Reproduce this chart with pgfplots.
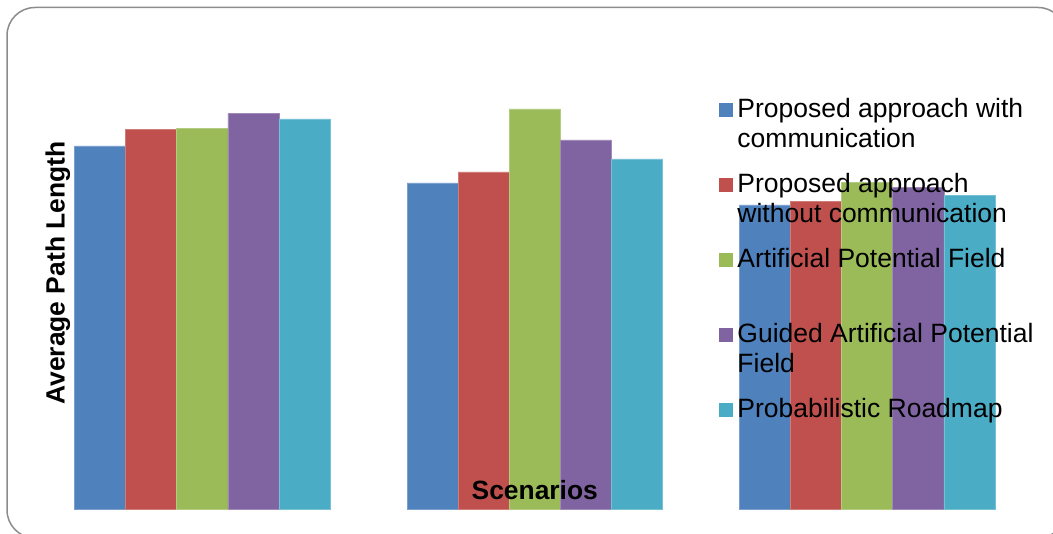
\documentclass[border=0pt]{standalone}
\usepackage{pgfplots}
\pgfplotsset{compat=1.18}
\usepackage{fontspec}
\setmainfont{Liberation Sans}
\definecolor{c1}{HTML}{4F81BD}
\definecolor{c2}{HTML}{C0504D}
\definecolor{c3}{HTML}{9BBB59}
\definecolor{c4}{HTML}{8064A2}
\definecolor{c5}{HTML}{4BACC6}
\definecolor{frame}{HTML}{8C8C8C}
\newcommand{\LE}[2]{\begin{tabular}[t]{@{}l@{}}#1\\#2\end{tabular}}
\begin{document}
\begin{tikzpicture}[x=0.5pt,y=0.5pt]
\useasboundingbox (0,0) rectangle (1053,534);
\begin{scope}
\clip (0,0) rectangle (1053,534);
\draw[frame, line width=0.75pt, rounded corners=14pt] (7,-4) rectangle (1066,526.5);
\end{scope}
\begin{axis}[
  at={(18.05pt,12.25pt)}, anchor=south west,
  scale only axis, width=498.65pt, height=250pt,
  xmin=-0.5, xmax=2.5, ymin=0, ymax=50,
  ybar=0pt, bar width=25.55pt,
  axis line style={draw=none}, ticks=none,
  xlabel={\fontsize{13.2}{16}\selectfont\bfseries Scenarios},
  ylabel={\fontsize{13.2}{16}\selectfont\bfseries Average Path Length},
  every axis x label/.style={at={(axis description cs:0.5,0.019)}, anchor=base},
  every axis y label/.style={at={(axis description cs:0.0218,0.473)}, rotate=90, anchor=center},
  every axis plot post/.append style={legend image code/.code={\fill[##1,draw=none] (0pt,0pt) rectangle (7.1pt,7.2pt);}},
  legend style={
    at={(axis description cs:0.6840,0.8276)}, anchor=north west,
    draw=none, fill=none, inner sep=0pt,
    nodes={inner sep=0pt, text depth=},
    cells={anchor=base west},
    row sep=7.5pt, column sep=2.3pt,
    font=\fontsize{13.25}{15}\selectfont,
  },
]
\addplot[fill=c1, draw=c1!75!white, line width=0.3pt] coordinates {(0,36.35) (1,32.65) (2,30.45)};
\addplot[fill=c2, draw=c2!75!white, line width=0.3pt] coordinates {(0,38.02) (1,33.75) (2,30.78)};
\addplot[fill=c3, draw=c3!75!white, line width=0.3pt] coordinates {(0,38.12) (1,40.05) (2,32.68)};
\addplot[fill=c4, draw=c4!75!white, line width=0.3pt] coordinates {(0,39.58) (1,36.95) (2,32.22)};
\addplot[fill=c5, draw=c5!75!white, line width=0.3pt] coordinates {(0,39.05) (1,35.05) (2,31.42)};
\addlegendentry{\LE{Proposed approach with}{communication}}
\addlegendentry{\LE{Proposed approach}{without communication}}
\addlegendentry{\LE{Artificial Potential Field}{\mbox{}}}
\addlegendentry{\LE{Guided Artificial Potential}{Field}}
\addlegendentry{\LE{Probabilistic Roadmap}{\mbox{}}}
\end{axis}
\end{tikzpicture}
\end{document}
